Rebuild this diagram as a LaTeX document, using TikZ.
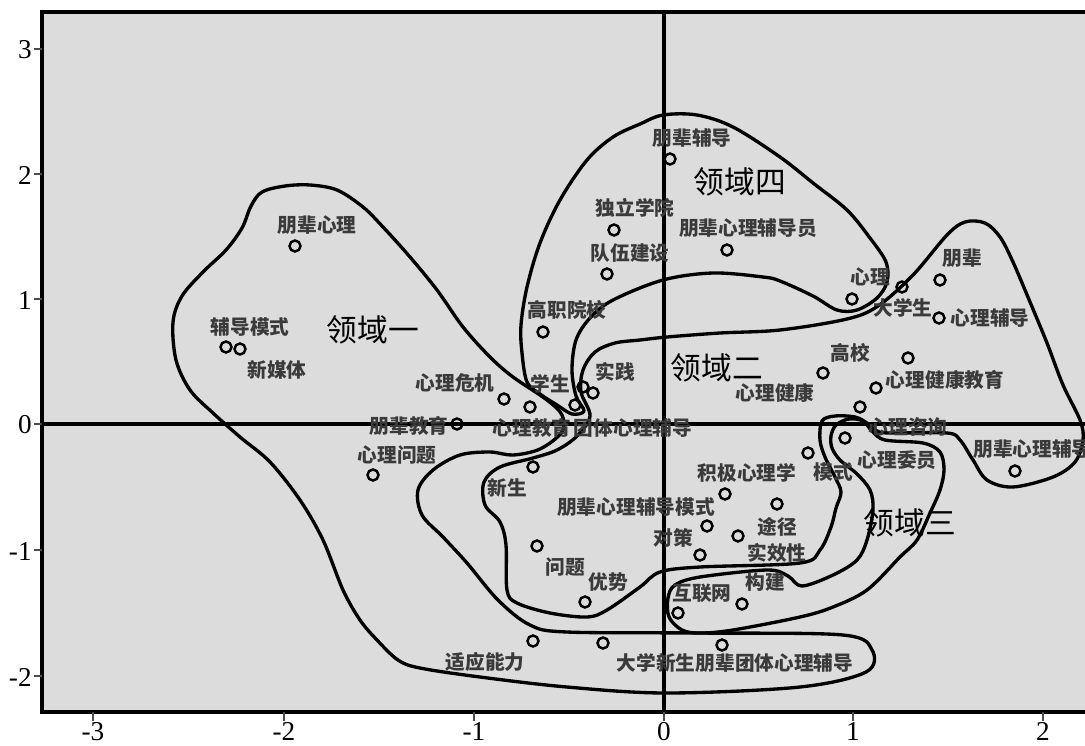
\documentclass[tikz,border=0pt]{standalone}
\usepackage{fontspec}
\setmainfont{Liberation Serif}
\newfontfamily\cjkfont{Noto Sans CJK SC}
\usepackage{tikz}
\usetikzlibrary{positioning}
\definecolor{panelgray}{RGB}{220,220,220}
\definecolor{termgray}{RGB}{58,58,58}

\begin{document}
\begin{tikzpicture}[
x=0.02cm, y=-0.02cm,
point/.style={circle,draw=black,line width=1.4pt,inner sep=0pt,minimum size=0.22cm},
term/.style={font=\cjkfont\bfseries\fontsize{11.2}{12}\selectfont,text=termgray,inner sep=0pt},
field/.style={font=\cjkfont\fontsize{17.5}{18}\selectfont,inner sep=0pt},
ticklabel/.style={font=\fontsize{15.5}{16}\selectfont,inner sep=0pt},
tickmark/.style={draw=black!70,line width=1.3pt},
region/.style={line width=1.9pt,line join=round}
]
    \useasboundingbox (0,0) rectangle (1085,745);

    % Draw panel
    \fill[panelgray] (42,12) rectangle (1085,712);

    % Draw regions
    % region one (left blob + bottom band)
    \draw[region] plot[smooth cycle,tension=0.55] coordinates {
      (262,192) (285,186) (310,185) (337,190) (363,207) (383,227) (410,257)
      (437,290) (463,327) (490,357) (513,377) (547,400) (562,415) (562,432)
      (540,449) (513,455) (490,452) (460,455) (433,470) (418,490) (422,515)
      (443,537) (467,563) (498,600) (530,625) (567,632) (700,633) (843,635)
      (872,650) (866,672) (800,687) (667,693) (567,687) (480,677) (420,668)
      (398,660) (377,640) (360,620) (343,590) (323,540) (300,500) (270,462)
      (240,437) (213,413) (190,390) (176,360) (173,322) (182,296) (203,272)
      (226,250) (242,228) (251,206)};
    % region four (top)
    \draw[region] plot[smooth cycle,tension=0.55] coordinates {
      (663,115) (697,115) (733,127) (780,157) (813,183) (847,210) (870,238)
      (886,262) (887,282) (877,298) (857,310) (837,310) (813,296) (780,281)
      (763,277) (713,273) (663,280) (613,300) (590,318) (576,340) (572,370)
      (576,396) (584,411) (572,414) (557,405) (540,394) (527,382) (522,353)
      (521,325) (527,287) (540,243) (560,200) (587,160) (613,137) (640,124)};
    % region two (middle)
    \draw[region] plot[smooth cycle,tension=0.55] coordinates {
      (590,416) (581,392) (583,370) (595,352) (615,343) (640,340) (667,337)
      (720,333) (780,330) (847,319) (878,306) (913,275) (947,235) (965,222)
      (985,223) (1000,237) (1013,262) (1030,302) (1047,343) (1063,385)
      (1080,420) (1083,440) (1075,462) (1053,477) (1013,487) (987,480)
      (973,460) (960,440) (947,433) (890,433) (877,431) (867,423) (855,417)
      (835,416) (822,421) (820,440) (825,457) (835,477) (841,492) (836,508)
      (831,527) (820,550) (800,563) (700,567) (660,572) (640,587) (607,610)
      (587,617) (550,613) (517,603) (507,590) (506,545) (500,522) (485,505)
      (484,482) (500,467) (533,458) (557,450) (577,436)};
    % region three (hook)
    \draw[region] plot[smooth cycle,tension=0.55] coordinates {
      (831,436) (836,425) (849,419) (863,421) (872,431) (885,440) (923,443)
      (940,452) (944,470) (940,490) (930,513) (917,540) (900,557) (867,590)
      (833,607) (800,617) (733,630) (700,633) (682,630) (669,617) (668,598)
      (675,585) (700,577) (767,570) (788,576) (802,586) (833,575) (857,560)
      (867,540) (873,510) (870,490) (857,474) (840,460) (832,448)};

    % Draw axes and frame
    \draw[line width=1.9pt] (664,12) -- (664,712);
    \draw[line width=1.9pt] (42,424) -- (1085,424);
    \draw[line width=2pt] (1085,12) -- (42,12) -- (42,712) -- (1085,712);

    % Ticks
    \draw[tickmark] (34,49) -- (42,49);
    \draw[tickmark] (34,174) -- (42,174);
    \draw[tickmark] (34,299) -- (42,299);
    \draw[tickmark] (34,424) -- (42,424);
    \draw[tickmark] (34,550) -- (42,550);
    \draw[tickmark] (34,676) -- (42,676);
    \node[ticklabel,anchor=east] (ty3) at (32,50) {3};
    \node[ticklabel,anchor=east] (ty2) at (32,175) {2};
    \node[ticklabel,anchor=east] (ty1) at (32,300) {1};
    \node[ticklabel,anchor=east] (ty0) at (32,425) {0};
    \node[ticklabel,anchor=east] (tym1) at (32,551) {-1};
    \node[ticklabel,anchor=east] (tym2) at (32,677) {-2};
    \draw[tickmark] (93,712) -- (93,721);
    \draw[tickmark] (284,712) -- (284,721);
    \draw[tickmark] (474,712) -- (474,721);
    \draw[tickmark] (664,712) -- (664,721);
    \draw[tickmark] (853,712) -- (853,721);
    \draw[tickmark] (1043,712) -- (1043,721);
    \node[ticklabel,anchor=north] (txm3) at (93,722) {-3};
    \node[ticklabel,anchor=north] (txm2) at (284,722) {-2};
    \node[ticklabel,anchor=north] (txm1) at (474,722) {-1};
    \node[ticklabel,anchor=north] (tx0) at (664,722) {0};
    \node[ticklabel,anchor=north] (tx1) at (853,722) {1};
    \node[ticklabel,anchor=north] (tx2) at (1043,722) {2};

    % Points
    \node[point] (c1) at (295,246) {};
    \node[point] (c2) at (226,347) {};
    \node[point] (c3) at (240,349) {};
    \node[point] (c4) at (504,399) {};
    \node[point] (c5) at (457,424) {};
    \node[point] (c6) at (373,475) {};
    \node[point] (c7) at (530,407) {};
    \node[point] (c8) at (575,405) {};
    \node[point] (c9) at (583,387) {};
    \node[point] (c10) at (593,393) {};
    \node[point] (c11) at (543,332) {};
    \node[point] (c12) at (607,274) {};
    \node[point] (c13) at (614,230) {};
    \node[point] (c14) at (670,159) {};
    \node[point] (c15) at (727,250) {};
    \node[point] (c16) at (852,299) {};
    \node[point] (c17) at (902,287) {};
    \node[point] (c18) at (940,280) {};
    \node[point] (c19) at (939,318) {};
    \node[point] (c20) at (823,373) {};
    \node[point] (c21) at (908,358) {};
    \node[point] (c22) at (876,388) {};
    \node[point] (c23) at (860,407) {};
    \node[point] (c24) at (845,438) {};
    \node[point] (c25) at (808,453) {};
    \node[point] (c26) at (725,494) {};
    \node[point] (c27) at (777,504) {};
    \node[point] (c28) at (707,526) {};
    \node[point] (c29) at (738,536) {};
    \node[point] (c30) at (700,555) {};
    \node[point] (c31) at (533,467) {};
    \node[point] (c32) at (537,546) {};
    \node[point] (c33) at (585,602) {};
    \node[point] (c34) at (678,613) {};
    \node[point] (c35) at (742,604) {};
    \node[point] (c36) at (533,641) {};
    \node[point] (c37) at (603,643) {};
    \node[point] (c38) at (722,645) {};
    \node[point] (c39) at (1015,471) {};

    % Terms
    \node[term] (t1) at (317,225) {朋辈心理};
    \node[term] (t2) at (250,327) {辅导模式};
    \node[term] (t3) at (277,370) {新媒体};
    \node[term] (t4) at (455,383) {心理危机};
    \node[term] (t5) at (409,426) {朋辈教育};
    \node[term] (t6) at (397,455) {心理问题};
    \node[term] (t7) at (532,428) {心理教育};
    \node[term] (t8) at (633,428) {团体心理辅导};
    \node[term] (t9) at (550,384) {学生};
    \node[term] (t10) at (615,372) {实践};
    \node[term] (t11) at (567,310) {高职院校};
    \node[term] (t12) at (630,253) {队伍建设};
    \node[term] (t13) at (635,208) {独立学院};
    \node[term] (t14) at (692,138) {朋辈辅导};
    \node[term] (t15) at (748,228) {朋辈心理辅导员};
    \node[term] (t16) at (870,277) {心理};
    \node[term] (t17) at (903,308) {大学生};
    \node[term] (t18) at (962,258) {朋辈};
    \node[term] (t19) at (990,318) {心理辅导};
    \node[term] (t20) at (850,353) {高校};
    \node[term] (t21) at (945,380) {心理健康教育};
    \node[term] (t22) at (775,393) {心理健康};
    \node[term] (t23) at (908,427) {心理咨询};
    \node[term] (t24) at (897,460) {心理委员};
    \node[term] (t25) at (833,472) {模式};
    \node[term] (t26) at (747,473) {积极心理学};
    \node[term] (t27) at (636,507) {朋辈心理辅导模式};
    \node[term] (t28) at (507,488) {新生};
    \node[term] (t29) at (777,527) {途径};
    \node[term] (t30) at (673,538) {对策};
    \node[term] (t31) at (777,553) {实效性};
    \node[term] (t32) at (565,567) {问题};
    \node[term] (t33) at (608,582) {优势};
    \node[term] (t34) at (702,593) {互联网};
    \node[term] (t35) at (765,582) {构建};
    \node[term] (t36) at (485,662) {适应能力};
    \node[term] (t37) at (735,663) {大学新生朋辈团体心理辅导};
    \node[term,anchor=west] (t38) at (973,449) {朋辈心理辅导};

    % Field names
    \node[field] (f1) at (373,330) {领域一};
    \node[field] (f2) at (717,368) {领域二};
    \node[field] (f3) at (910,523) {领域三};
    \node[field] (f4) at (740,182) {领域四};

\end{tikzpicture}
\end{document}
